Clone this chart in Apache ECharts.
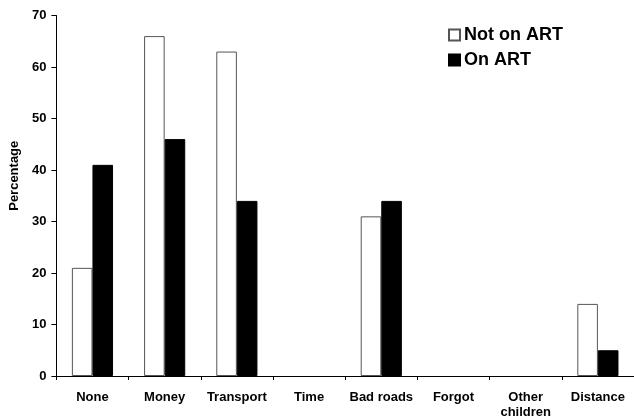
<!DOCTYPE html>
<html><head><meta charset="utf-8">
<script src="https://cdn.jsdelivr.net/npm/echarts@6/dist/echarts.min.js"></script>
<style>html,body{margin:0;padding:0;background:#fff}#c{width:634px;height:420px}</style>
</head><body><div id="c"></div>
<script>
var categories = ["None", "Money", "Transport", "Time", "Bad roads", "Forgot", "Other\nchildren", "Distance"];
var notOnART = [21, 66, 63, 0, 31, 0, 0, 14];
var onART = [41, 46, 34, 0, 34, 0, 0, 5];
var yTicks = {min: 0, max: 70, interval: 10};

function toItems(arr) {
  return arr.map(function (v) {
    return v === 0 ? {value: v, itemStyle: {borderWidth: 0}} : v;
  });
}

var chart = echarts.init(document.getElementById('c'), null, {renderer: 'canvas'});
var font = '"Liberation Sans", Arial, sans-serif';
chart.setOption({
  animation: false,
  backgroundColor: '#fff',
  grid: {left: 55.5, top: 15.5, right: -0.5, bottom: 40.7, containLabel: false},
  legend: {
    left: 448, top: 25, orient: 'vertical', itemGap: 5, padding: 0,
    itemWidth: 11, itemHeight: 11,
    textStyle: {fontFamily: font, fontWeight: 'bold', fontSize: 18, lineHeight: 20, color: '#000', padding: [0,0,0,-1]},
    data: [{name: 'Not on ART', icon: 'rect'}, {name: 'On ART', icon: 'rect'}]
  },
  xAxis: {
    type: 'category', data: categories,
    axisLine: {lineStyle: {color: '#000', width: 1}},
    axisTick: {show: true, length: 4, lineStyle: {color: '#000'}},
    axisLabel: {fontFamily: font, fontWeight: 'bold', fontSize: 13, color: '#000', margin: 14, lineHeight: 15, interval: 0}
  },
  yAxis: {
    type: 'value', min: yTicks.min, max: yTicks.max, interval: yTicks.interval,
    name: 'Percentage', nameLocation: 'middle', nameGap: 32,
    nameTextStyle: {fontFamily: font, fontWeight: 'bold', fontSize: 13, color: '#000', padding: [0, 0, 0, 40]},
    axisLine: {show: true, lineStyle: {color: '#000', width: 1}},
    axisTick: {show: true, length: 5, lineStyle: {color: '#000'}},
    splitLine: {show: false},
    axisLabel: {fontFamily: font, fontWeight: 'bold', fontSize: 13, color: '#000', margin: 10}
  },
  series: [
    {name: 'Not on ART', type: 'bar', data: toItems(notOnART), barGap: '0%', barCategoryGap: '43%',
     itemStyle: {color: '#fff', borderColor: '#555', borderWidth: 1}},
    {name: 'On ART', type: 'bar', data: toItems(onART),
     itemStyle: {color: '#000', borderColor: '#000', borderWidth: 1}}
  ]
});
</script></body></html>
